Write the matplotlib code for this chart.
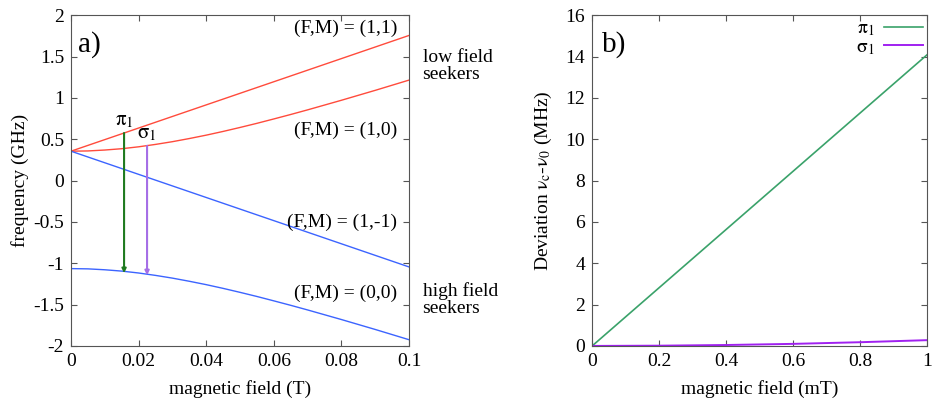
import matplotlib
matplotlib.use("Agg")
import matplotlib.pyplot as plt

plt.rcParams['font.family'] = ['Liberation Serif', 'DejaVu Serif']
plt.rcParams['mathtext.fontset'] = 'stix'
plt.rcParams['font.size'] = 14

# ---- panel a: Breit-Rabi levels ----
field_T = [0.0, 0.005, 0.01, 0.015, 0.02, 0.025, 0.03, 0.035, 0.04, 0.045, 0.05,
           0.055, 0.06, 0.065, 0.07, 0.075, 0.08, 0.085, 0.09, 0.095, 0.10]
f11 = [0.355, 0.425, 0.495, 0.565, 0.635, 0.705, 0.775, 0.845, 0.915, 0.985, 1.055,
       1.125, 1.195, 1.265, 1.335, 1.405, 1.475, 1.545, 1.615, 1.685, 1.755]
f10 = [0.355, 0.358, 0.369, 0.385, 0.408, 0.437, 0.470, 0.508, 0.549, 0.594, 0.642,
       0.692, 0.745, 0.799, 0.855, 0.913, 0.971, 1.031, 1.091, 1.153, 1.215]
f1m1 = [0.355, 0.285, 0.215, 0.145, 0.075, 0.005, -0.065, -0.135, -0.205, -0.275, -0.345,
        -0.415, -0.485, -0.555, -0.625, -0.695, -0.765, -0.835, -0.905, -0.975, -1.045]
f00 = [-1.065, -1.068, -1.079, -1.095, -1.118, -1.147, -1.180, -1.218, -1.259, -1.304, -1.352,
       -1.402, -1.455, -1.509, -1.565, -1.623, -1.681, -1.741, -1.801, -1.863, -1.925]

# transitions: (field, upper, lower)
pi1_arrow = (0.0157, 0.575, -1.12)
sigma1_arrow = (0.0225, 0.42, -1.145)

# ---- panel b: deviation of transition frequency ----
field_mT = [0.0, 0.2, 0.4, 0.6, 0.8, 1.0]
pi1_dev = [0.0, 2.82, 5.64, 8.46, 11.28, 14.1]
sigma1_dev = [0.0, 0.012, 0.045, 0.10, 0.18, 0.28]

RED = '#ff4b3c'
BLUE = '#3c64ff'
SPINE = '#555555'

fig = plt.figure(figsize=(9.34, 3.99), dpi=100)
ax_a = fig.add_axes([0.076, 0.133, 0.362, 0.829])
ax_b = fig.add_axes([0.634, 0.133, 0.359, 0.829])

for ax in (ax_a, ax_b):
    ax.tick_params(direction='in', top=True, right=True, length=4,
                   color=SPINE, labelsize=14, pad=5)
    for s in ax.spines.values():
        s.set_edgecolor(SPINE)

# panel a
ax_a.plot(field_T, f11, color=RED, lw=1)
ax_a.plot(field_T, f10, color=RED, lw=1)
ax_a.plot(field_T, f1m1, color=BLUE, lw=1)
ax_a.plot(field_T, f00, color=BLUE, lw=1)

for (bx, up, lo), col in ((pi1_arrow, '#1f7a1f'), (sigma1_arrow, '#a56ee6')):
    ax_a.annotate('', xy=(bx, lo), xytext=(bx, up),
                  arrowprops=dict(arrowstyle='-|>', color=col, lw=1.5,
                                  mutation_scale=6, shrinkA=0, shrinkB=0))

ax_a.text(pi1_arrow[0], pi1_arrow[1] + 0.03, r'$\mathrm{\pi}_1$', ha='center', va='bottom', fontsize=15)
ax_a.text(sigma1_arrow[0], sigma1_arrow[1] + 0.03, r'$\mathrm{\sigma}_1$', ha='center', va='bottom', fontsize=15)

for y, lab in ((1.84, '(F,M) = (1,1)'), (0.61, '(F,M) = (1,0)'),
               (-0.50, '(F,M) = (1,-1)'), (-1.37, '(F,M) = (0,0)')):
    ax_a.text(0.0965, y, lab, ha='right', va='center', fontsize=14)

ax_a.text(1.04, 0.845, 'low field\nseekers', transform=ax_a.transAxes,
          ha='left', va='center', fontsize=14, linespacing=1.0)
ax_a.text(1.04, 0.14, 'high field\nseekers', transform=ax_a.transAxes,
          ha='left', va='center', fontsize=14, linespacing=1.0)
ax_a.text(0.022, 0.91, 'a)', transform=ax_a.transAxes, fontsize=21, va='center')

ax_a.set_xlim(0, 0.1)
ax_a.set_ylim(-2, 2)
ax_a.set_xticks([0, 0.02, 0.04, 0.06, 0.08, 0.1])
ax_a.set_xticklabels(['0', '0.02', '0.04', '0.06', '0.08', '0.1'])
ax_a.set_yticks([-2, -1.5, -1, -0.5, 0, 0.5, 1, 1.5, 2])
ax_a.set_yticklabels(['-2', '-1.5', '-1', '-0.5', '0', '0.5', '1', '1.5', '2'])
ax_a.set_xlabel('magnetic field (T)', fontsize=14, labelpad=7)
ax_a.set_ylabel('frequency (GHz)', fontsize=14, labelpad=3)

# panel b
ax_b.plot(field_mT, pi1_dev, color='#3aa26a', lw=1.2, label=r'$\mathrm{\pi}_1$')
ax_b.plot(field_mT, sigma1_dev, color='#a020f0', lw=1.4, label=r'$\mathrm{\sigma}_1$')
ax_b.set_xlim(0, 1)
ax_b.set_ylim(0, 16)
ax_b.set_xticks([0, 0.2, 0.4, 0.6, 0.8, 1])
ax_b.set_xticklabels(['0', '0.2', '0.4', '0.6', '0.8', '1'])
ax_b.set_yticks(range(0, 17, 2))
ax_b.set_xlabel('magnetic field (mT)', fontsize=14, labelpad=7)
ax_b.set_ylabel(r'Deviation $\mathrm{\nu_c}$-$\mathrm{\nu_0}$ (MHz)', fontsize=14, labelpad=8)
ax_b.text(0.03, 0.91, 'b)', transform=ax_b.transAxes, fontsize=21, va='center')
ax_b.legend(loc='upper right', frameon=False, markerfirst=False, fontsize=14,
            handlelength=2.0, handletextpad=0.5, labelspacing=0.0,
            borderaxespad=0.15, borderpad=0.1)

fig.savefig('out.png', dpi=100)
